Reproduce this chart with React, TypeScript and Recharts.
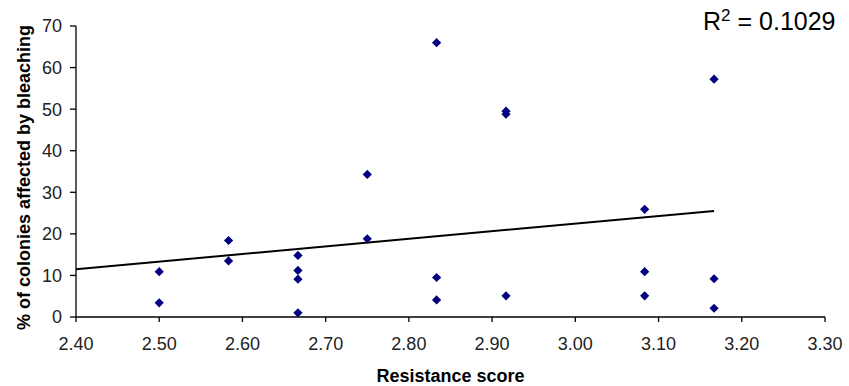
import React from "react";
import { ScatterChart, Scatter, XAxis, YAxis, Label } from "recharts";

const resistanceScore = [
  2.5, 2.5, 2.5833, 2.5833, 2.6667, 2.6667, 2.6667, 2.6667, 2.75, 2.75,
  2.8333, 2.8333, 2.8333, 2.9167, 2.9167, 2.9167, 3.0833, 3.0833, 3.0833,
  3.1667, 3.1667, 3.1667,
];
const bleachedPct = [
  10.9, 3.4, 18.4, 13.5, 14.8, 11.2, 9.1, 1.0, 34.3, 18.8, 66.0, 9.5, 4.1,
  49.5, 48.8, 5.1, 25.9, 10.9, 5.1, 57.2, 9.2, 2.1,
];
const trendX = [2.4, 3.1667];
const trendY = [11.5, 25.5];
const xTicks = [2.4, 2.5, 2.6, 2.7, 2.8, 2.9, 3.0, 3.1, 3.2, 3.3];
const yTicks = [0, 10, 20, 30, 40, 50, 60, 70];
const rSquaredValue = "0.1029";

const points = resistanceScore.map((x, i) => ({ x, y: bleachedPct[i] }));
const trend = trendX.map((x, i) => ({ x, y: trendY[i] }));

const FONT = "Arial, 'Liberation Sans', sans-serif";

const Diamond = (props: any) => {
  const { cx, cy } = props;
  if (cx == null || cy == null) return <g />;
  const r = 4.6;
  return (
    <polygon
      points={`${cx},${cy - r} ${cx + r},${cy} ${cx},${cy + r} ${cx - r},${cy}`}
      fill="#000080"
    />
  );
};

const YTitle = (props: any) => {
  const vb = props.viewBox || {};
  const cx = 24;
  const cy = (vb.y ?? 26) + (vb.height ?? 291) / 2 + 6;
  return (
    <text
      x={cx}
      y={cy}
      transform={`rotate(-90, ${cx}, ${cy})`}
      textAnchor="middle"
      dominantBaseline="central"
      fontFamily={FONT}
      fontSize={18}
      fontWeight="bold"
      fill="#000"
    >
      % of colonies affected by bleaching
    </text>
  );
};

export default function App() {
  return (
    <div style={{ position: "absolute", left: 0, top: 0, width: 849, height: 386, background: "#fff" }}>
      <ScatterChart
        width={849}
        height={386}
        margin={{ top: 26, right: 24, bottom: 0, left: 0 }}
      >
        <XAxis
          type="number"
          dataKey="x"
          domain={[2.4, 3.3]}
          ticks={xTicks}
          tickFormatter={(v: number) => v.toFixed(2)}
          height={69}
          axisLine={{ stroke: "#000", strokeWidth: 1.3 }}
          tickLine={{ stroke: "#000", strokeWidth: 1.3 }}
          tickSize={5}
          tickMargin={15}
          tick={{ fill: "#222", fontSize: 18, fontFamily: FONT }}
          allowDataOverflow
        >
          <Label
            value="Resistance score"
            position="insideBottom"
            offset={4}
            fill="#000"
            fontSize={18}
            fontWeight="bold"
            fontFamily={FONT}
          />
        </XAxis>
        <YAxis
          type="number"
          dataKey="y"
          domain={[0, 70]}
          ticks={yTicks}
          width={76}
          axisLine={{ stroke: "#000", strokeWidth: 1.3 }}
          tickLine={{ stroke: "#000", strokeWidth: 1.3 }}
          tickSize={6}
          tickMargin={8}
          tick={{ fill: "#222", fontSize: 18, fontFamily: FONT }}
          allowDataOverflow
        >
          <Label content={<YTitle />} />
        </YAxis>
        <Scatter
          data={trend}
          line={{ stroke: "#000", strokeWidth: 2 }}
          shape={() => <g />}
          isAnimationActive={false}
          legendType="none"
        />
        <Scatter
          data={points}
          shape={<Diamond />}
          isAnimationActive={false}
          legendType="none"
        />
      </ScatterChart>
      <div
        style={{
          position: "absolute",
          left: 703,
          top: 6,
          fontFamily: FONT,
          fontSize: 25,
          color: "#000",
          whiteSpace: "nowrap",
          lineHeight: "30px",
        }}
      >
        R<span style={{ fontSize: 17, position: "relative", top: -9 }}>2</span> = {rSquaredValue}
      </div>
    </div>
  );
}
